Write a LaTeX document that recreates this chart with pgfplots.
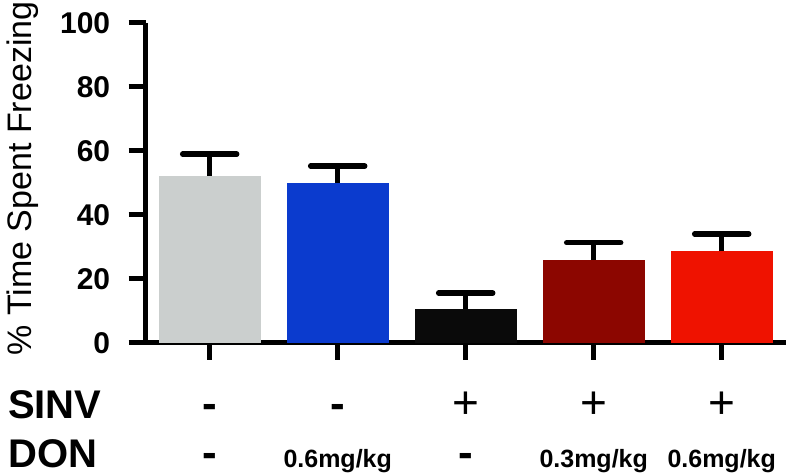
\documentclass[border=0pt]{standalone}
\usepackage{pgfplots}
\pgfplotsset{compat=1.18}
\usepackage{fontspec}
\setmainfont{Liberation Sans}
\definecolor{cgray}{HTML}{CBCFCE}
\definecolor{cblue}{HTML}{0B3BCE}
\definecolor{cblack}{HTML}{0A0A0A}
\definecolor{cdred}{HTML}{8C0600}
\definecolor{cred}{HTML}{EF1200}
\begin{document}
\begin{tikzpicture}
\path[use as bounding box] (-145.7pt,-133.3pt) rectangle (644.3pt,342.7pt);
\begin{axis}[
  at={(0pt,0pt)}, anchor=south west,
  scale only axis, width=640pt, height=320pt,
  xmin=-0.5, xmax=4.5, ymin=0, ymax=100,
  axis x line*=bottom, axis y line*=left,
  axis line style={line width=5.5pt, -, black},
  xtick={0,1,2,3,4}, xticklabels={,,,,},
  ytick={0,20,40,60,80,100},
  tick align=outside, major tick length=17pt,
  tick style={line width=5.5pt, black},
  ybar, bar width=102pt, clip=false,
  /pgf/number format/assume math mode=true,
  yticklabel style={font=\fontsize{30}{36}\selectfont\bfseries, xshift=-15pt},
  ylabel={\% Time Spent Freezing},
  ylabel style={font=\fontsize{34}{40}\selectfont, at={(axis description cs:-0.1777,0.513)}, anchor=base},
  error bars/y dir=plus, error bars/y explicit,
  error bars/error mark=|,
  error bars/error bar style={draw=black, line width=5.5pt},
  error bars/error mark options={draw=black, line width=5.5pt, mark size=27pt, line cap=round},
]
\addplot[fill=cgray, draw=none, bar shift=0pt] coordinates {(0,52.2) +- (0,6.7)};
\addplot[fill=cblue, draw=none, bar shift=0pt] coordinates {(1,49.9) +- (0,5.3)};
\addplot[fill=cblack, draw=none, bar shift=0pt] coordinates {(2,10.4) +- (0,5.1)};
\addplot[fill=cdred, draw=none, bar shift=0pt] coordinates {(3,25.9) +- (0,5.35)};
\addplot[fill=cred, draw=none, bar shift=0pt] coordinates {(4,28.5) +- (0,5.5)};

\node[anchor=base west, inner sep=0pt, font=\fontsize{40}{48}\selectfont\bfseries] at (axis cs:-1.576,-23.8) {SINV};
\node[anchor=base west, inner sep=0pt, font=\fontsize{40}{48}\selectfont\bfseries] at (axis cs:-1.576,-38.9) {DON};
\node[anchor=base, inner sep=0pt, font=\fontsize{44}{50}\selectfont\bfseries] at (axis cs:0,-23.8) {-};
\node[anchor=base, inner sep=0pt, font=\fontsize{44}{50}\selectfont\bfseries] at (axis cs:1,-23.8) {-};
\node[anchor=base, inner sep=0pt, font=\fontsize{46}{52}\selectfont] at (axis cs:2,-23.8) {+};
\node[anchor=base, inner sep=0pt, font=\fontsize{46}{52}\selectfont] at (axis cs:3,-23.8) {+};
\node[anchor=base, inner sep=0pt, font=\fontsize{46}{52}\selectfont] at (axis cs:4,-23.8) {+};
\node[anchor=base, inner sep=0pt, font=\fontsize{44}{50}\selectfont\bfseries] at (axis cs:0,-38.9) {-};
\node[anchor=base, inner sep=0pt, font=\fontsize{25}{30}\selectfont\bfseries] at (axis cs:1,-38.9) {0.6mg/kg};
\node[anchor=base, inner sep=0pt, font=\fontsize{44}{50}\selectfont\bfseries] at (axis cs:2,-38.9) {-};
\node[anchor=base, inner sep=0pt, font=\fontsize{25}{30}\selectfont\bfseries] at (axis cs:3,-38.9) {0.3mg/kg};
\node[anchor=base, inner sep=0pt, font=\fontsize{25}{30}\selectfont\bfseries] at (axis cs:4,-38.9) {0.6mg/kg};
\end{axis}
\end{tikzpicture}
\end{document}
